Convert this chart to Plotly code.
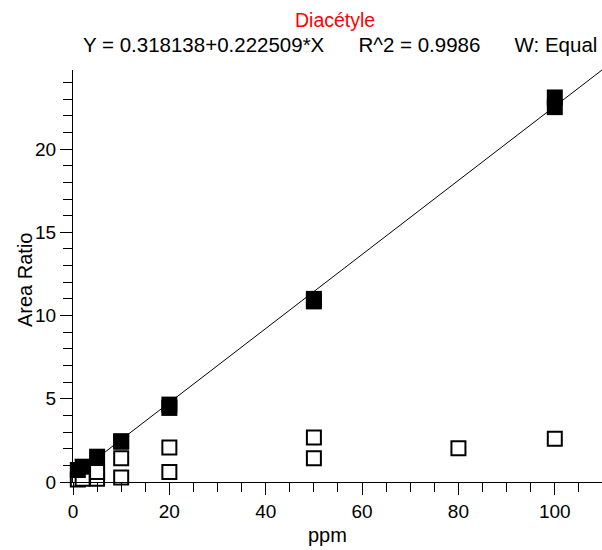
import plotly.graph_objects as go

# Calibration standards (filled squares)
cal_x = [1, 2, 5, 10, 10, 20, 20, 50, 50, 100, 100]
cal_y = [0.72, 0.92, 1.52, 2.42, 2.45, 4.65, 4.45, 11.0, 10.85, 23.1, 22.52]

# Other points (open squares)
qc_x = [1, 2, 5, 5, 10, 10, 20, 20, 50, 50, 80, 100]
qc_y = [0.15, 0.2, 0.2, 0.6, 0.27, 1.42, 0.6, 2.07, 1.42, 2.68, 2.02, 2.6]

# Regression
intercept = 0.318138
slope = 0.222509
r2 = 0.9986
fit_x = [0, 110]
fit_y = [intercept + slope * v for v in fit_x]

title_name = "Diacétyle"
x_label = "ppm"
y_label = "Area Ratio"
x_ticks = [0, 20, 40, 60, 80, 100]
y_ticks = [0, 5, 10, 15, 20]

FONT = "Liberation Sans, Arial, sans-serif"
L, T, B, W, H = 73, 70, 68, 602, 550
PW, PH = W - L, H - T - B

def px(xp):
    return (xp - L) / PW

def py(yp):
    return (H - B - yp) / PH

fig = go.Figure()
fig.add_trace(go.Scatter(
    x=qc_x, y=qc_y, mode="markers", cliponaxis=False,
    marker=dict(symbol="square", size=14, color="white",
                line=dict(color="black", width=2)),
    showlegend=False))
fig.add_trace(go.Scatter(
    x=fit_x, y=fit_y, mode="lines",
    line=dict(color="black", width=1), showlegend=False))
fig.add_trace(go.Scatter(
    x=cal_x, y=cal_y, mode="markers", cliponaxis=False,
    marker=dict(symbol="square", size=16, color="black",
                line=dict(width=0)),
    showlegend=False))

axis_common = dict(showgrid=False, zeroline=False, automargin=False,
                   showline=True, linecolor="black", linewidth=1,
                   ticks="outside", ticklen=12, tickcolor="black", tickwidth=1,
                   tickfont=dict(family=FONT, size=19, color="black"))

fig.update_layout(
    width=W, height=H,
    margin=dict(l=L, r=0, t=T, b=B, autoexpand=False),
    paper_bgcolor="white", plot_bgcolor="white",
    font=dict(family=FONT, size=19, color="black"),
    xaxis=dict(range=[0, 109.8], tickvals=x_ticks,
               minor=dict(dtick=5, tick0=0, ticks="outside", ticklen=9,
                          tickcolor="black", tickwidth=1),
               **axis_common),
    yaxis=dict(range=[0, 24.75], tickvals=y_ticks,
               minor=dict(dtick=1, tick0=0, ticks="outside", ticklen=9,
                          tickcolor="black", tickwidth=1),
               **axis_common),
)

fig.add_annotation(text=x_label, xref="paper", yref="paper",
                   x=px(327), y=py(535), xanchor="center", yanchor="middle",
                   showarrow=False, font=dict(family=FONT, size=20))
fig.add_annotation(text=y_label, xref="paper", yref="paper",
                   x=px(25), y=py(280), xanchor="center", yanchor="middle",
                   textangle=-90, showarrow=False, font=dict(family=FONT, size=20))

fig.add_annotation(text=title_name, xref="paper", yref="paper",
                   x=px(335), y=py(20),
                   xanchor="center", yanchor="middle", showarrow=False,
                   font=dict(family=FONT, size=19.5, color="red"))
gap = "      "
fig.add_annotation(text=f"Y = {intercept}+{slope}*X{gap}R^2 = {r2}{gap}W: Equal",
                   xref="paper", yref="paper",
                   x=px(340), y=py(45),
                   xanchor="center", yanchor="middle", showarrow=False,
                   font=dict(family=FONT, size=20.5, color="black"))

fig.write_html("out.html", config={"displayModeBar": False},
               post_script="document.body.style.margin='0';document.body.style.padding='0';")
